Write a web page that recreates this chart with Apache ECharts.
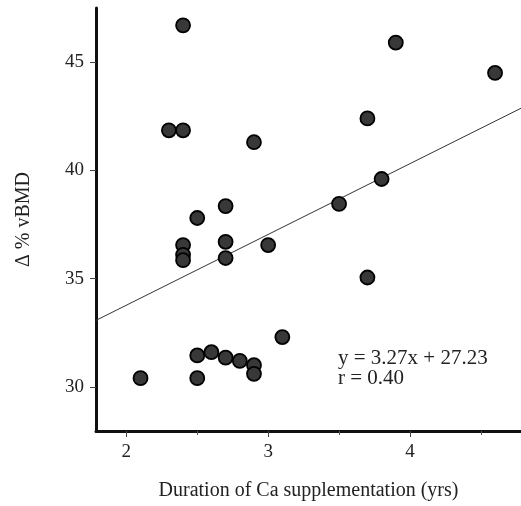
<!DOCTYPE html>
<html>
<head>
<meta charset="utf-8">
<script src="https://cdn.jsdelivr.net/npm/echarts@6/dist/echarts.min.js"></script>
<style>html,body{margin:0;padding:0;background:#fff}#c{width:521px;height:506px}</style>
</head>
<body>
<div id="c"></div>
<script>
// Data
const durationYrs = [2.4, 3.9, 4.6, 3.7, 2.3, 2.4, 2.9, 2.5, 2.7, 3.5, 3.8, 2.4, 2.4, 2.4, 2.7, 2.7, 3.0, 3.7, 3.1, 2.1, 2.5, 2.5, 2.6, 2.7, 2.8, 2.9, 2.9];
const deltaVBMD   = [46.7, 45.9, 44.5, 42.4, 41.85, 41.85, 41.3, 37.8, 38.35, 38.45, 39.6, 36.55, 36.1, 35.85, 36.7, 35.95, 36.55, 35.05, 32.3, 30.4, 30.4, 31.45, 31.6, 31.35, 31.2, 31.0, 30.6];
const regSlope = 3.27;
const regIntercept = 27.23;
const regR = 0.40;
const xMajorTicks = [2, 3, 4];
const xMinorTicks = [2.5, 3.5, 4.5];
const yMajorTicks = [30, 35, 40, 45];
const X_MIN = 1.786, X_MAX = 4.783, Y_MIN = 27.96, Y_MAX = 47.5;

const points = durationYrs.map((x, i) => [x, deltaVBMD[i]]);
const lineData = [X_MIN, X_MAX].map(x => [x, regSlope * x + regIntercept]);

const font = 'Liberation Serif';
const chart = echarts.init(document.getElementById('c'), null, {renderer: 'canvas'});
chart.setOption({
  animation: false,
  backgroundColor: '#fff',
  grid: {left: 96, right: 0, top: 8, bottom: 73},
  xAxis: [{
    type: 'value', min: X_MIN, max: X_MAX,
    name: 'Duration of Ca supplementation (yrs)',
    nameLocation: 'middle', nameGap: 50,
    nameTextStyle: {fontFamily: font, fontSize: 20, color: '#222'},
    axisLine: {show: true, lineStyle: {color: '#111', width: 3}},
    axisTick: {show: true, customValues: xMajorTicks, length: 6, lineStyle: {color: '#444', width: 1}},
    axisLabel: {show: true, customValues: xMajorTicks, fontFamily: font, fontSize: 19, color: '#222', margin: 12},
    splitLine: {show: false}
  }, {
    type: 'value', min: X_MIN, max: X_MAX, position: 'bottom',
    axisLine: {show: false},
    axisTick: {show: true, customValues: xMinorTicks, length: 4, lineStyle: {color: '#555', width: 1}},
    axisLabel: {show: false},
    splitLine: {show: false}
  }],
  yAxis: {
    type: 'value', min: Y_MIN, max: Y_MAX,
    name: 'Δ % vBMD',
    nameLocation: 'middle', nameGap: 62, nameRotate: 90,
    nameTextStyle: {fontFamily: font, fontSize: 20, color: '#222'},
    axisLine: {show: true, lineStyle: {color: '#111', width: 3}},
    axisTick: {show: true, customValues: yMajorTicks, length: 6, lineStyle: {color: '#444', width: 1}},
    axisLabel: {show: true, customValues: yMajorTicks, fontFamily: font, fontSize: 19, color: '#222', margin: 12},
    splitLine: {show: false}
  },
  series: [{
    type: 'line', data: lineData, symbol: 'none', z: 1,
    lineStyle: {color: '#333', width: 1}
  }, {
    type: 'scatter', data: points, symbolSize: 14, z: 3,
    itemStyle: {color: '#383838', borderColor: '#000', borderWidth: 1.8, opacity: 1}
  }],
  graphic: [{
    type: 'text', left: 338, top: 348,
    style: {
      text: 'y = ' + regSlope.toFixed(2) + 'x + ' + regIntercept.toFixed(2) + '\nr = ' + regR.toFixed(2),
      font: '21px "Liberation Serif"', fill: '#222', lineHeight: 20
    }
  }]
});
</script>
</body>
</html>
